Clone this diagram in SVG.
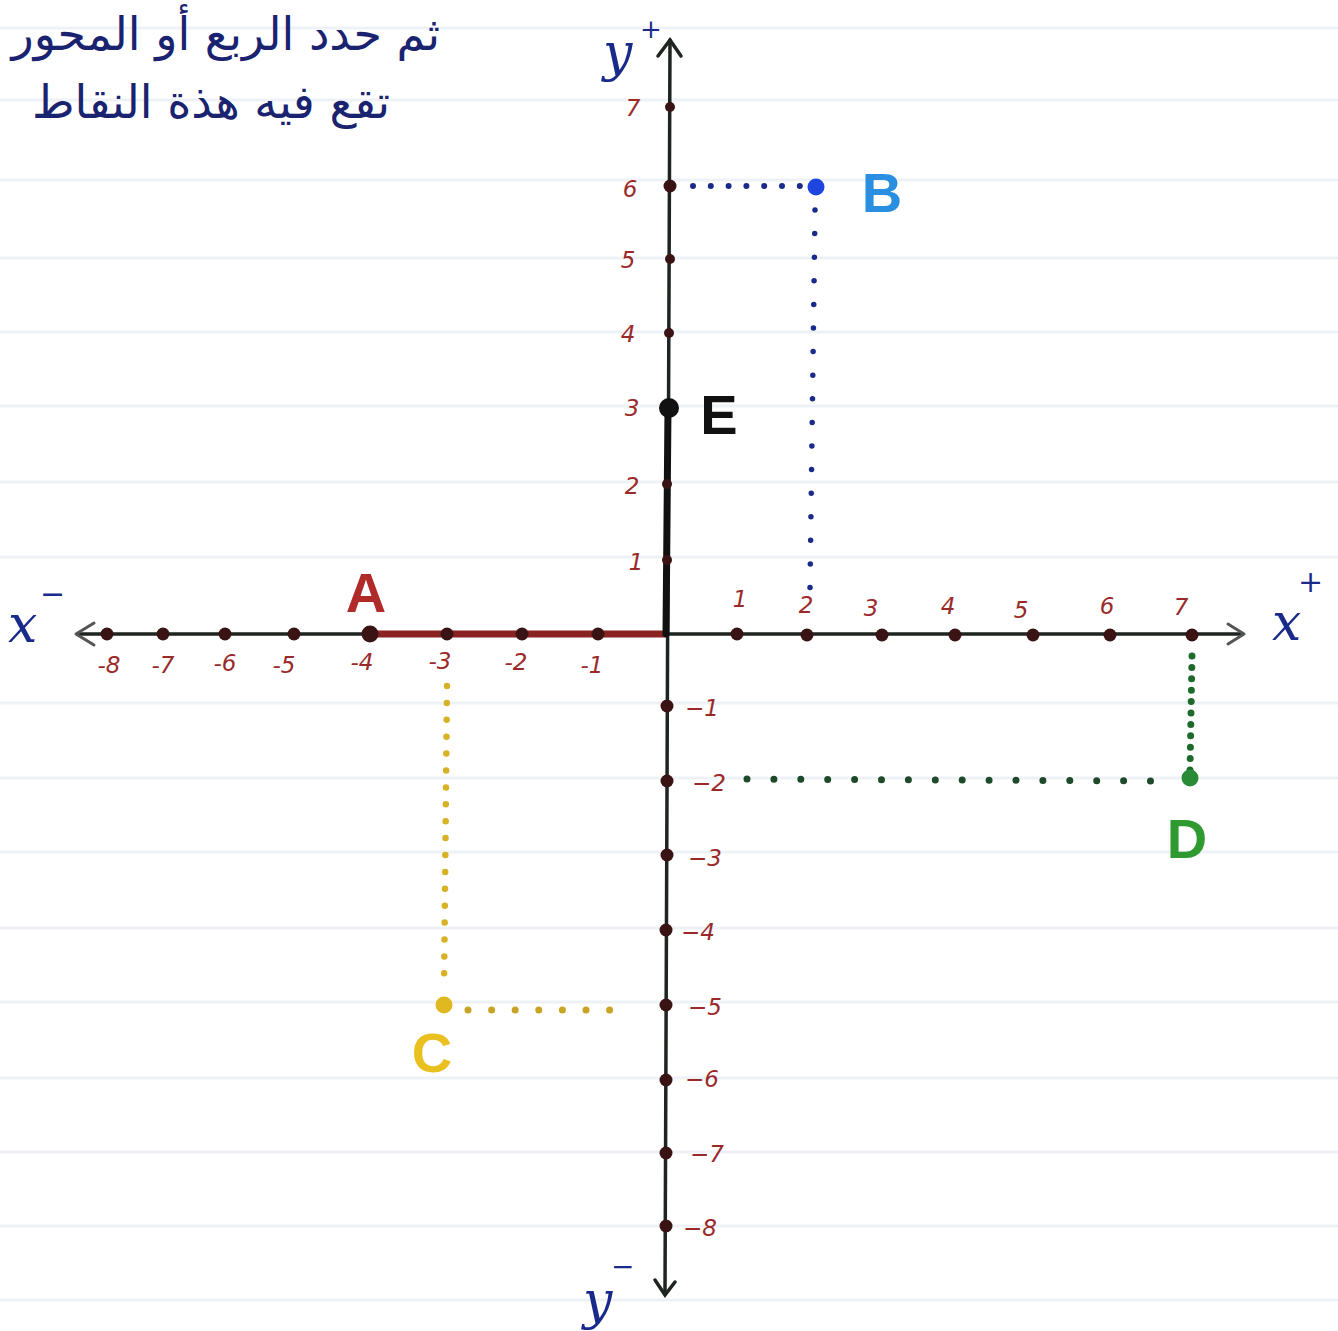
<svg xmlns="http://www.w3.org/2000/svg" width="1338" height="1331" viewBox="0 0 1338 1331">
<style>
.rule{stroke:#eef1f6;stroke-width:3}
.axis{stroke:#1e2420;stroke-width:3.5;fill:none;stroke-linecap:round}
.head{stroke:#555;stroke-width:3;fill:none;stroke-linecap:round;stroke-linejoin:round}
.tick{fill:#3a1414}
.tl{font-family:"DejaVu Sans",sans-serif;font-size:23px;fill:#9a2a2a;font-style:italic}
.ax{font-family:"DejaVu Serif",serif;font-style:italic;fill:#1a2a8a}
.ar{font-family:"DejaVu Sans",sans-serif;font-size:46px;fill:#1a2370}
.pt{font-family:"Liberation Sans",sans-serif;font-weight:bold;font-size:56px}
.dot{fill:none;stroke-linecap:round}
</style>
<rect width="1338" height="1331" fill="#ffffff"/>
<g id="ruled-lines">
<line class="rule" x1="0" y1="28" x2="1338" y2="28"/>
<line class="rule" x1="0" y1="100" x2="1338" y2="100"/>
<line class="rule" x1="0" y1="180" x2="1338" y2="180"/>
<line class="rule" x1="0" y1="258" x2="1338" y2="258"/>
<line class="rule" x1="0" y1="332" x2="1338" y2="332"/>
<line class="rule" x1="0" y1="406" x2="1338" y2="406"/>
<line class="rule" x1="0" y1="482" x2="1338" y2="482"/>
<line class="rule" x1="0" y1="557" x2="1338" y2="557"/>
<line class="rule" x1="0" y1="703" x2="1338" y2="703"/>
<line class="rule" x1="0" y1="778" x2="1338" y2="778"/>
<line class="rule" x1="0" y1="852" x2="1338" y2="852"/>
<line class="rule" x1="0" y1="928" x2="1338" y2="928"/>
<line class="rule" x1="0" y1="1002" x2="1338" y2="1002"/>
<line class="rule" x1="0" y1="1078" x2="1338" y2="1078"/>
<line class="rule" x1="0" y1="1152" x2="1338" y2="1152"/>
<line class="rule" x1="0" y1="1226" x2="1338" y2="1226"/>
<line class="rule" x1="0" y1="1300" x2="1338" y2="1300"/>
</g>
<g id="title">
<text class="ar" x="440" y="50" direction="rtl" text-anchor="start">ثم حدد الربع أو المحور</text>
<text class="ar" x="390" y="118" direction="rtl" text-anchor="start">تقع فيه هذة النقاط</text>
</g>
<g id="connectors">
<line class="axis" x1="78" y1="634" x2="1242" y2="634"/>
<line class="axis" x1="670" y1="40" x2="665" y2="1293"/>
<polyline class="head" points="94,623 76,634 94,645"/>
<polyline class="head" points="1228,624 1244,634 1228,644"/>
<polyline class="axis" points="658,56 670,40 681,56"/>
<polyline class="axis" points="655,1280 665,1295 675,1282"/>
<line x1="370" y1="634" x2="664" y2="634" stroke="#8a2222" stroke-width="7" stroke-linecap="round"/>
<line x1="668" y1="408" x2="666" y2="634" stroke="#111" stroke-width="7" stroke-linecap="round"/>
<line class="dot" x1="693" y1="186" x2="800" y2="186" stroke="#1a2a8a" stroke-width="6" stroke-dasharray="0 17.8"/>
<line class="dot" x1="815" y1="210" x2="810" y2="588" stroke="#1a2a8a" stroke-width="5.5" stroke-dasharray="0 23.6"/>
<line class="dot" x1="447" y1="686" x2="444" y2="990" stroke="#d7b227" stroke-width="6.5" stroke-dasharray="0 16.9"/>
<line class="dot" x1="468" y1="1010" x2="633" y2="1010" stroke="#c9a326" stroke-width="7" stroke-dasharray="0 23.6"/>
<line class="dot" x1="1192" y1="656" x2="1190" y2="770" stroke="#1e6a2a" stroke-width="7" stroke-dasharray="0 11.4"/>
<line class="dot" x1="747" y1="779" x2="1177" y2="781" stroke="#1e4a2a" stroke-width="7" stroke-dasharray="0 26.9"/>
</g>
<g id="x-ticks">
<circle class="tick" cx="107" cy="634" r="6.5"/>
<circle class="tick" cx="163" cy="634" r="6.5"/>
<circle class="tick" cx="225" cy="634" r="6.5"/>
<circle class="tick" cx="294" cy="634" r="6.5"/>
<circle class="tick" cx="447" cy="634" r="6.5"/>
<circle class="tick" cx="522" cy="634" r="6.5"/>
<circle class="tick" cx="598" cy="634" r="6.5"/>
<circle class="tick" cx="737" cy="634" r="6.5"/>
<circle class="tick" cx="807" cy="635" r="6.5"/>
<circle class="tick" cx="882" cy="635" r="6.5"/>
<circle class="tick" cx="955" cy="635" r="6.5"/>
<circle class="tick" cx="1033" cy="635" r="6.5"/>
<circle class="tick" cx="1110" cy="635" r="6.5"/>
<circle class="tick" cx="1192" cy="635" r="6.5"/>
<text class="tl" x="109" y="673" text-anchor="middle">-8</text>
<text class="tl" x="163" y="673" text-anchor="middle">-7</text>
<text class="tl" x="225" y="671" text-anchor="middle">-6</text>
<text class="tl" x="284" y="673" text-anchor="middle">-5</text>
<text class="tl" x="362" y="670" text-anchor="middle">-4</text>
<text class="tl" x="440" y="669" text-anchor="middle">-3</text>
<text class="tl" x="516" y="670" text-anchor="middle">-2</text>
<text class="tl" x="592" y="673" text-anchor="middle">-1</text>
<text class="tl" x="740" y="607" text-anchor="middle">1</text>
<text class="tl" x="806" y="613" text-anchor="middle">2</text>
<text class="tl" x="871" y="616" text-anchor="middle">3</text>
<text class="tl" x="948" y="614" text-anchor="middle">4</text>
<text class="tl" x="1021" y="618" text-anchor="middle">5</text>
<text class="tl" x="1107" y="614" text-anchor="middle">6</text>
<text class="tl" x="1181" y="615" text-anchor="middle">7</text>
</g>
<g id="y-ticks">
<circle class="tick" cx="670" cy="107" r="5"/>
<circle class="tick" cx="670" cy="186" r="6.5"/>
<circle class="tick" cx="670" cy="259" r="5"/>
<circle class="tick" cx="669" cy="333" r="5"/>
<circle class="tick" cx="667" cy="484" r="5"/>
<circle class="tick" cx="667" cy="560" r="5"/>
<circle class="tick" cx="667" cy="706" r="6.5"/>
<circle class="tick" cx="667" cy="781" r="6.5"/>
<circle class="tick" cx="667" cy="855" r="6.5"/>
<circle class="tick" cx="666" cy="930" r="6.5"/>
<circle class="tick" cx="666" cy="1005" r="6.5"/>
<circle class="tick" cx="666" cy="1080" r="6.5"/>
<circle class="tick" cx="666" cy="1153" r="6.5"/>
<circle class="tick" cx="666" cy="1226" r="6.5"/>
<text class="tl" x="633" y="116" text-anchor="middle">7</text>
<text class="tl" x="630" y="197" text-anchor="middle">6</text>
<text class="tl" x="628" y="268" text-anchor="middle">5</text>
<text class="tl" x="628" y="342" text-anchor="middle">4</text>
<text class="tl" x="632" y="416" text-anchor="middle" font-size="18">3</text>
<text class="tl" x="632" y="494" text-anchor="middle" font-size="18">2</text>
<text class="tl" x="636" y="570" text-anchor="middle" font-size="18">1</text>
<text class="tl" x="685" y="716">−1</text>
<text class="tl" x="692" y="791">−2</text>
<text class="tl" x="688" y="866">−3</text>
<text class="tl" x="681" y="940">−4</text>
<text class="tl" x="688" y="1015">−5</text>
<text class="tl" x="685" y="1087">−6</text>
<text class="tl" x="690" y="1162">−7</text>
<text class="tl" x="683" y="1236">−8</text>
</g>
<g id="axis-labels">
<text class="ax" x="8" y="642" font-size="52">x</text>
<text class="ax" x="40" y="604" font-size="30">−</text>
<text class="ax" x="1272" y="640" font-size="52">x</text>
<text class="ax" x="1298" y="592" font-size="30">+</text>
<text class="ax" x="603" y="70" font-size="52">y</text>
<text class="ax" x="640" y="38" font-size="26">+</text>
<text class="ax" x="583" y="1318" font-size="52">y</text>
<text class="ax" x="611" y="1276" font-size="28">−</text>
</g>
<g id="point-A">
<circle cx="370" cy="634" r="8.5" fill="#3a1414"/>
<text class="pt" x="366" y="612" fill="#b02a2a" text-anchor="middle">A</text>
</g>
<g id="point-B">
<circle cx="816" cy="187" r="8.5" fill="#1f45e0"/>
<text class="pt" x="882" y="212" fill="#2a8fe0" text-anchor="middle">B</text>
</g>
<g id="point-C">
<circle cx="444" cy="1005" r="8.5" fill="#e0b820"/>
<text class="pt" x="432" y="1072" fill="#eac020" text-anchor="middle">C</text>
</g>
<g id="point-D">
<circle cx="1190" cy="778" r="8.5" fill="#2a8a35"/>
<text class="pt" x="1187" y="858" fill="#2e9a30" text-anchor="middle">D</text>
</g>
<g id="point-E">
<circle cx="669" cy="408" r="10" fill="#111"/>
<text class="pt" x="719" y="434" fill="#111" text-anchor="middle">E</text>
</g>
</svg>
